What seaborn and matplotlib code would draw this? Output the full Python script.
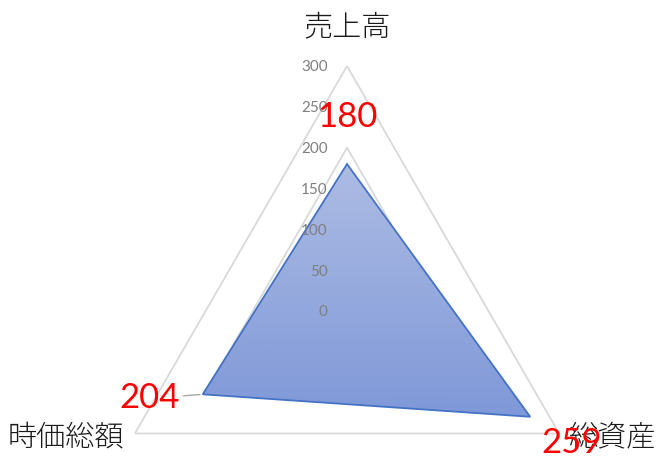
import numpy as np
import matplotlib
matplotlib.use('Agg')
import matplotlib.pyplot as plt
import seaborn as sns
from matplotlib.colors import LinearSegmentedColormap
from matplotlib.image import BboxImage

# chart data
categories = ['売上高', '総資産', '時価総額']
values = [180, 259, 204]
grid_levels = [100, 200, 300]
tick_values = [0, 50, 100, 150, 200, 250, 300]

sns.set_theme(style='white')
plt.rcParams['font.family'] = ['Lato', 'Noto Sans CJK JP', 'DejaVu Sans']

fig = plt.figure(figsize=(6.66, 4.63), dpi=100)
fig.patch.set_facecolor('white')
ax = fig.add_axes([0.1532, -0.2009, 0.7357, 1.0583], projection='polar')
ax.set_theta_offset(np.pi / 2)
ax.set_theta_direction(-1)
ax.set_ylim(0, 300)
ax.grid(False)
ax.set_xticks([])
ax.set_yticks([])
ax.spines['polar'].set_visible(False)
ax.patch.set_visible(False)

angles = np.linspace(0, 2 * np.pi, len(categories), endpoint=False)
closed_angles = np.append(angles, angles[0])
closed_values = np.append(values, values[0])

# triangular grid
for lvl in grid_levels:
    ax.plot(closed_angles, [lvl] * len(closed_angles), color='#d9d9d9', lw=1.3, zorder=1)

# series outline + gradient fill clipped to it
poly = ax.fill(closed_angles, closed_values, facecolor='none',
               edgecolor='#4472C4', lw=1.3, zorder=3)[0]
disp = poly.get_transform().transform_path(poly.get_path())
bb = disp.get_extents()
cmap = LinearSegmentedColormap.from_list('grad', ['#7f98d8', '#adbce4'])
img = BboxImage(bb, cmap=cmap, interpolation='bilinear', zorder=2)
img.set_data(np.linspace(1, 0, 256).reshape(-1, 1))
ax.add_artist(img)
img.set_clip_path(poly)

# axis tick labels along the top spoke
for t in tick_values:
    ax.annotate(str(t), xy=(0, t), xytext=(-14, -1), textcoords='offset points',
                ha='right', va='center', fontsize=11, color='#7f7f7f', zorder=4)

# data labels
label_offsets = [(0, 34), (30, -19), (-38, -3)]
for a, v, off in zip(angles, values, label_offsets):
    kw = {}
    if off[0] < 0:
        kw['arrowprops'] = dict(arrowstyle='-', color='#a6a6a6', lw=1, shrinkA=0, shrinkB=2)
    ax.annotate(str(v), xy=(a, v), xytext=off, textcoords='offset points',
                ha='center', va='center', fontsize=25, color='#ff0000', zorder=5, **kw)

# category labels
cat_offsets = [(0, 28), (38, -2.5), (-50, -2.5)]
for a, c, off in zip(angles, categories, cat_offsets):
    ax.annotate(c, xy=(a, 300), xytext=off, textcoords='offset points',
                ha='center', va='center', fontsize=21, color='#1a1a1a',
                fontweight='light', annotation_clip=False, zorder=4)

fig.savefig('out.png', dpi=100)
